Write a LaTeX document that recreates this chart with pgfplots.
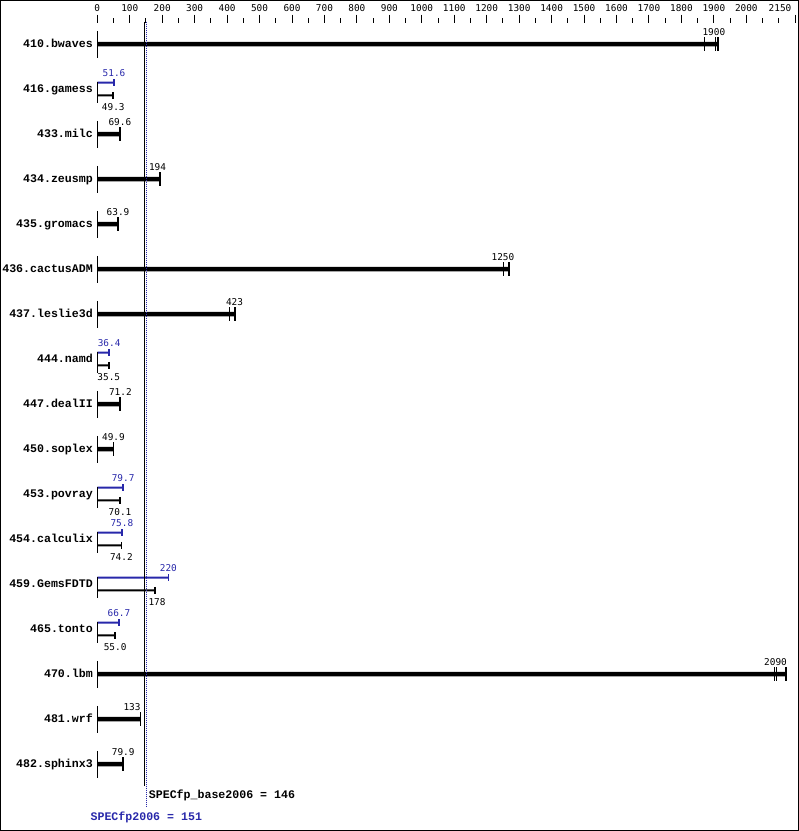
\documentclass[border=0pt]{standalone}
\usepackage{pgfplots}
\usepackage{pgfplotstable}
\pgfplotsset{compat=1.18}
\usepackage{fontspec}
\setmainfont{Liberation Sans}
\setmonofont{Liberation Mono}
\newfontfamily\digitfont{DejaVu Sans Mono}
\definecolor{peakblue}{RGB}{40,40,170}

\newcommand\valfont{\digitfont\fontsize{9.4}{10}\selectfont}
\newcommand\namefont{\ttfamily\bfseries\fontsize{11.6}{12}\selectfont}

% rows with base result only: bar end (last run), label position, label
\pgfplotstableread{
idx end  lx    lab
0   1913 1900  1900
2   69.6 69.6  69.6
3   194  185.5 194
4   63.9 63.9  63.9
5   1268 1250  1250
6   424  423   423
8   71.2 71.2  71.2
9   49.9 49.9  49.9
14  2121 2090  2090
15  133  107   133
16  79.9 79.9  79.9
}\baseonly

% rows with base and peak
\pgfplotstableread{
idx base bx   blab peak px   plab
1   49.3 49.3 49.3 51.6 51.6 51.6
7   35.5 35.5 35.5 36.4 36.4 36.4
10  70.1 70.1 70.1 79.7 79.7 79.7
11  74.2 74.2 74.2 75.8 75.8 75.8
12  178  184  178  220  219  220
13  55.0 55.0 55.0 66.7 66.7 66.7
}\basepeak

% individual runs on the long bars
\pgfplotstableread{
x    y
1871 0
1905 0
1913 0
1252 5
1268 5
406  6
424  6
2086 14
2094 14
2121 14
}\runs

\begin{document}
\begin{tikzpicture}
\begin{axis}[
    name=A,
    width=799pt, height=831pt, scale only axis,
    xmin=-299.8, xmax=2162.3,
    ymin=-0.978, ymax=17.489, y dir=reverse,
    xtick=\empty,
    ytick={0,...,16},
    yticklabels={410.bwaves,416.gamess,433.milc,434.zeusmp,435.gromacs,436.cactusADM,437.leslie3d,444.namd,447.dealII,450.soplex,453.povray,454.calculix,459.GemsFDTD,465.tonto,470.lbm,481.wrf,482.sphinx3},
    ytick style={draw=none},
    yticklabel style={font=\namefont, anchor=east, inner sep=0pt,
        text height=7.6pt, text depth=0pt, xshift=93pt},
    axis line style={line width=1.2pt},
    clip=false,
  ]

  % base-only rows
  \addplot[only marks, mark=|, mark size=13.5pt, mark options={line width=1pt}]
    table[x expr=0, y expr=\thisrow{idx}+0.01] {\baseonly};
  \addplot[xbar, bar width=4.5pt, bar shift=0pt, fill=black, draw=none]
    table[x=end, y=idx] {\baseonly};
  \addplot[only marks, mark=|, mark size=6.7pt, mark options={line width=1.8pt}]
    table[x=end, y=idx] {\baseonly};
  \addplot[only marks, mark=|, mark size=7pt, mark options={line width=1pt}]
    table[x=x, y=y] {\runs};
  \addplot[draw=none, nodes near coords, point meta=explicit symbolic,
      nodes near coords style={anchor=center, font=\valfont, inner sep=0pt}]
    table[x=lx, y expr=\thisrow{idx}-0.256, meta=lab] {\baseonly};

  % base + peak rows
  \addplot[only marks, mark=|, mark size=10.5pt, mark options={line width=1pt}]
    table[x expr=0, y expr=\thisrow{idx}+0.075] {\basepeak};
  \addplot[xbar, bar width=2pt, bar shift=0pt, fill=peakblue, draw=none]
    table[x=peak, y expr=\thisrow{idx}-0.14] {\basepeak};
  \addplot[only marks, mark=|, mark size=3.5pt, mark options={line width=1.6pt, draw=peakblue}]
    table[x=peak, y expr=\thisrow{idx}-0.14] {\basepeak};
  \addplot[xbar, bar width=2pt, bar shift=0pt, fill=black, draw=none]
    table[x=base, y expr=\thisrow{idx}+0.14] {\basepeak};
  \addplot[only marks, mark=|, mark size=3.5pt, mark options={line width=1.6pt}]
    table[x=base, y expr=\thisrow{idx}+0.14] {\basepeak};
  \addplot[draw=none, nodes near coords, point meta=explicit symbolic,
      nodes near coords style={anchor=center, font=\valfont, inner sep=0pt, text=peakblue}]
    table[x=px, y expr=\thisrow{idx}-0.356, meta=plab] {\basepeak};
  \addplot[draw=none, nodes near coords, point meta=explicit symbolic,
      nodes near coords style={anchor=center, font=\valfont, inner sep=0pt}]
    table[x=bx, y expr=\thisrow{idx}+0.407, meta=blab] {\basepeak};

  % overall means
  \addplot[black, line width=1.6pt] coordinates {(145.5,-0.496) (145.5,16.49)};
  \addplot[peakblue, line width=1pt, dash pattern=on 1pt off 1pt]
    coordinates {(151,-0.496) (151,16.956)};
  \node[anchor=west, font=\namefont, inner sep=0pt, text height=7.6pt, text depth=0pt]
    at (axis cs:146,16.69) {\hspace{4pt}SPECfp\_base2006 = 146};
  \node[anchor=center, font=\namefont, inner sep=0pt, text height=7.6pt, text depth=0pt, text=peakblue]
    at (axis cs:151,17.18) {SPECfp2006 = 151};
\end{axis}

\begin{axis}[
    at={(A.south west)}, anchor=south west,
    width=799pt, height=808.3pt, scale only axis,
    xmin=-299.8, xmax=2162.3, ymin=0, ymax=1,
    axis x line*=top, axis y line=none,
    x axis line style={draw=none},
    tick align=outside,
    xtick={0,100,...,2000},
    minor xtick={50,150,...,2050,2100},
    extra x ticks={2150},
    extra x tick style={xticklabel style={xshift=-15pt}},
    major tick length=8pt, minor tick length=4.3pt,
    tick style={black, line width=1pt},
    xticklabel style={font=\valfont, inner sep=0pt, yshift=2.5pt},
    /pgf/number format/assume math mode=true,
    /pgf/number format/1000 sep={},
  ]
\end{axis}
\pgfresetboundingbox
\path[use as bounding box] (A.south west) rectangle (A.north east);
\end{tikzpicture}
\end{document}
